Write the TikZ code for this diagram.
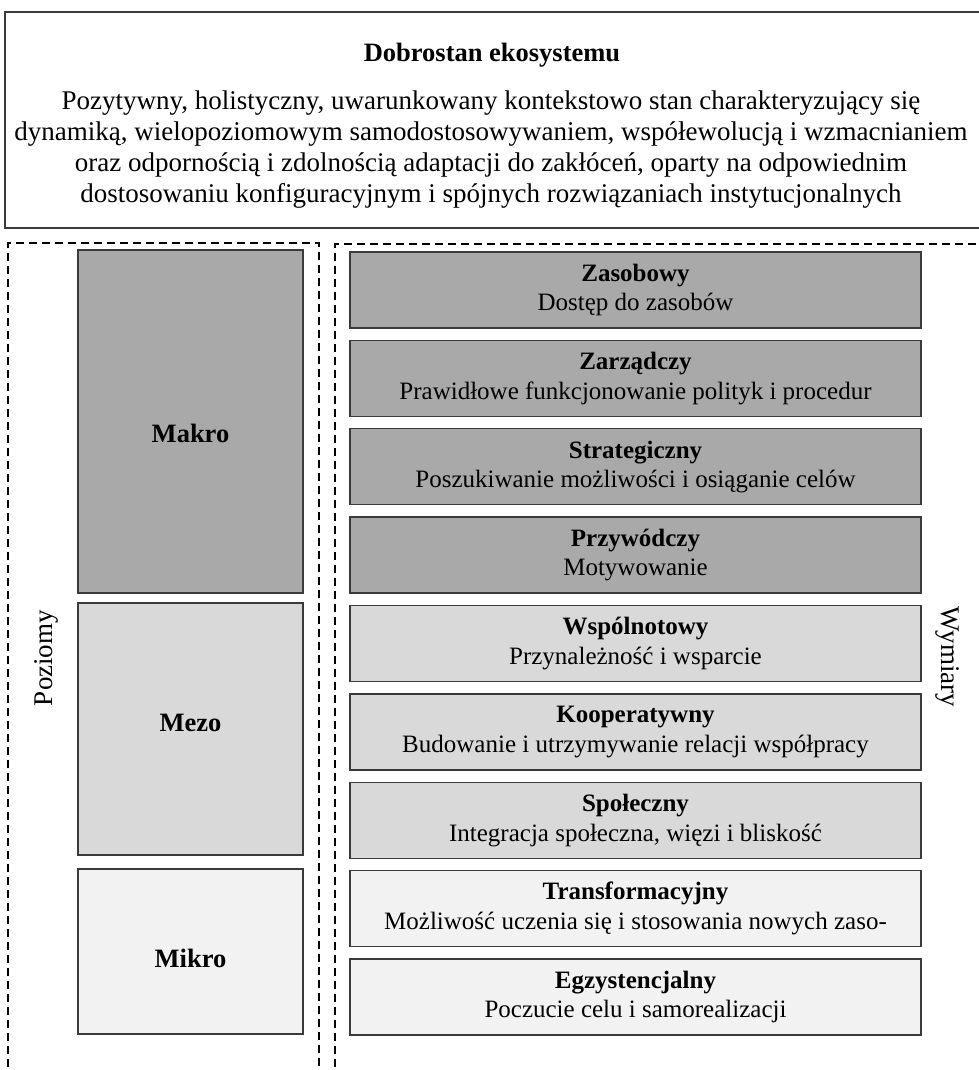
\documentclass[tikz,border=0pt]{standalone}
\usepackage{fontspec}
\setmainfont{Liberation Serif}
\definecolor{dark}{HTML}{A9A9A9}
\definecolor{mid}{HTML}{D9D9D9}
\definecolor{light}{HTML}{F2F2F2}
\definecolor{bordc}{HTML}{3A3A3A}
\begin{document}
\begin{tikzpicture}[x=1pt,y=-1pt,
  dimbox/.style={draw=bordc, line width=1.3pt, minimum width=571pt, minimum height=76pt, inner sep=0pt, align=center, font=\fontsize{25}{29.5}\selectfont},
  lvlbox/.style={draw=bordc, line width=1.3pt, minimum width=225pt, inner sep=0pt},
  lvltext/.style={font=\fontsize{26.5}{30}\selectfont\bfseries},
  sidetext/.style={font=\fontsize{27}{30}\selectfont},
  dashline/.style={dash pattern=on 8pt off 5pt, line width=1.2pt}]
\useasboundingbox (0,0) rectangle (978,1070);
% top box
\node[draw=bordc, line width=1.3pt, minimum width=980pt, minimum height=216pt, inner sep=0pt] (top) at (495,120) {};
\node[font=\fontsize{26.5}{31}\selectfont\bfseries] (title) at (492,55) {Dobrostan ekosystemu};
\node[align=center, font=\fontsize{27}{31}\selectfont, inner sep=0pt] (desc) at (491,150) {Pozytywny, holistyczny, uwarunkowany kontekstowo stan charakteryzujący się\\dynamiką, wielopoziomowym samodostosowywaniem, współewolucją i wzmacnianiem\\oraz odpornością i zdolnością adaptacji do zakłóceń, oparty na odpowiednim\\dostosowaniu konfiguracyjnym i spójnych rozwiązaniach instytucjonalnych};
% dashed frames
\draw[dashline] (8,1080) -- (8,243) -- (319,243) -- (319,1080);
\draw[dashline] (335,1080) -- (335,244) -- (990,244);
% levels
\node[lvlbox, fill=dark, minimum height=343pt] (makro) at (190.5,421.5) {};
\node[lvlbox, fill=mid, minimum height=252pt] (mezo) at (190.5,729) {};
\node[lvlbox, fill=light, minimum height=165pt] (mikro) at (190.5,951.5) {};
\node[lvltext] (makrot) at (190.5,433) {Makro};
\node[lvltext] (mezot) at (190.5,723) {Mezo};
\node[lvltext] (mikrot) at (190.5,958) {Mikro};
\node[sidetext, rotate=90] (poziomy) at (46,658) {Poziomy};
\node[sidetext, rotate=-90] (wymiary) at (948,657) {Wymiary};
% dimensions
\node[dimbox, fill=dark] (d1) at (635.5,290) {\textbf{Zasobowy}\\Dostęp do zasobów};
\node[dimbox, fill=dark] (d2) at (635.5,378.4) {\textbf{Zarządczy}\\Prawidłowe funkcjonowanie polityk i procedur};
\node[dimbox, fill=dark] (d3) at (635.5,466.8) {\textbf{Strategiczny}\\Poszukiwanie możliwości i osiąganie celów};
\node[dimbox, fill=dark] (d4) at (635.5,555.1) {\textbf{Przywódczy}\\Motywowanie};
\node[dimbox, fill=mid] (d5) at (635.5,643.5) {\textbf{Wspólnotowy}\\Przynależność i wsparcie};
\node[dimbox, fill=mid] (d6) at (635.5,731.9) {\textbf{Kooperatywny}\\Budowanie i utrzymywanie relacji współpracy};
\node[dimbox, fill=mid] (d7) at (635.5,820.3) {\textbf{Społeczny}\\Integracja społeczna, więzi i bliskość};
\node[dimbox, fill=light] (d8) at (635.5,908.6) {\textbf{Transformacyjny}\\Możliwość uczenia się i stosowania nowych zaso-};
\node[dimbox, fill=light] (d9) at (635.5,997) {\textbf{Egzystencjalny}\\Poczucie celu i samorealizacji};
\end{tikzpicture}
\end{document}
